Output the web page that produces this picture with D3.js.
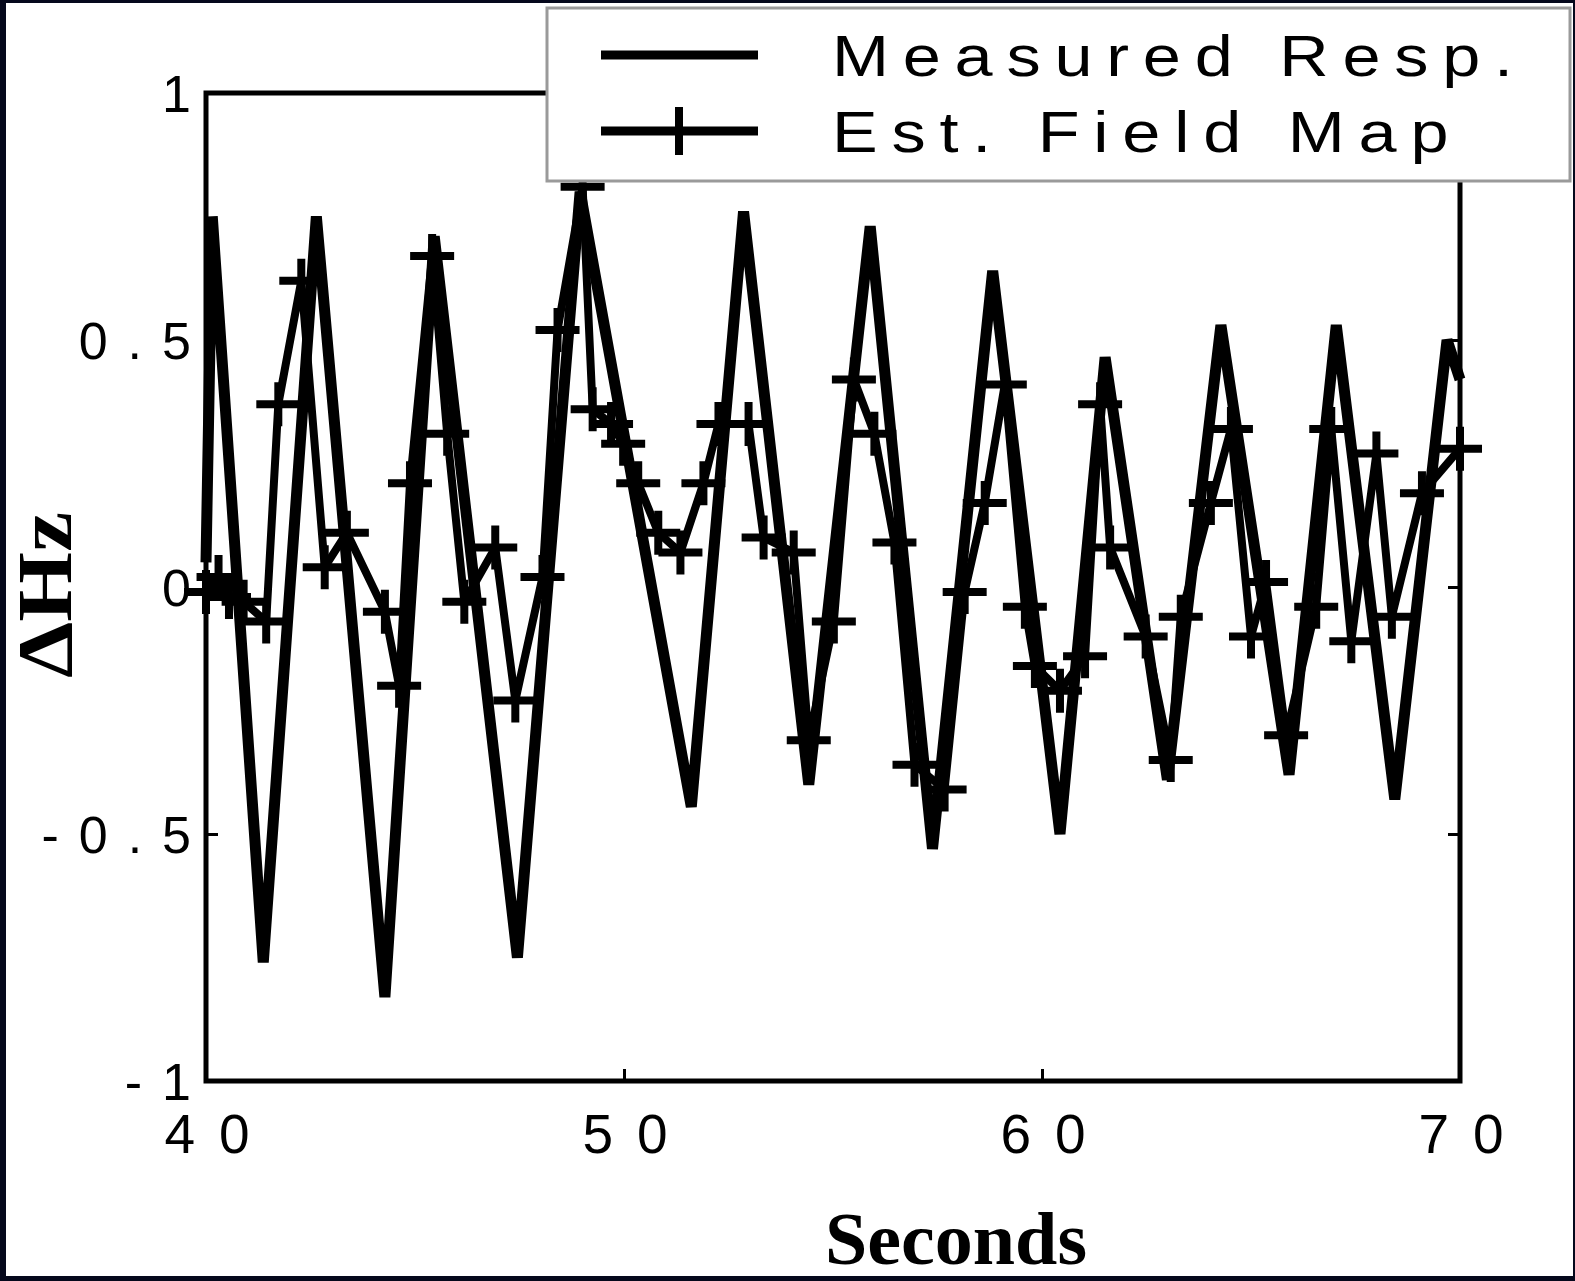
<!DOCTYPE html>
<html>
<head>
<meta charset="utf-8">
<script src="https://cdn.jsdelivr.net/npm/d3@7"></script>
<style>
  body { margin: 0; background: #05081c; }
  svg { display: block; }
</style>
</head>
<body>
<svg></svg>
<script>
// values
const measured_t  = [40.0, 40.15, 41.37, 42.64, 44.28, 45.46, 47.45, 48.95, 51.61, 52.86, 54.42, 55.89, 57.38,
                     58.82, 60.43, 61.51, 63.0, 64.28, 65.91, 67.04, 68.44, 69.69, 70.0];
const measured_hz = [0.05, 0.75, -0.76, 0.75, -0.83, 0.71, -0.75, 0.80, -0.445, 0.76, -0.40, 0.73, -0.53,
                     0.64, -0.50, 0.465, -0.39, 0.53, -0.38, 0.53, -0.43, 0.50, 0.42];

const est_t  = [40.0, 40.3, 40.55, 40.9, 41.44, 41.73, 42.28, 42.84, 43.37, 44.28, 44.62, 44.88, 45.41,
                45.77, 46.18, 46.92, 47.40, 48.05, 48.41, 49.01, 49.25, 49.69, 49.98, 50.34, 50.82,
                51.35, 51.9, 52.26, 52.98, 53.34, 54.06, 54.42, 55.02, 55.5, 55.99, 56.47, 56.95,
                57.67, 58.15, 58.63, 59.11, 59.59, 59.83, 60.43, 61.03, 61.39, 61.63, 62.48, 63.08,
                63.32, 64.04, 64.52, 65.0, 65.36, 65.84, 66.56, 66.92, 67.4, 68.0, 68.37, 69.09, 70.0];
const est_hz = [-0.01, 0.02, -0.02, -0.03, -0.07, 0.37, 0.62, 0.04, 0.11, -0.05, -0.20, 0.21, 0.67,
                0.31, -0.03, 0.08, -0.23, 0.02, 0.52, 0.81, 0.36, 0.33, 0.29, 0.21, 0.11,
                0.07, 0.21, 0.33, 0.33, 0.10, 0.07, -0.31, -0.07, 0.42, 0.31, 0.09, -0.36,
                -0.41, -0.01, 0.17, 0.41, -0.04, -0.16, -0.21, -0.14, 0.37, 0.08, -0.10, -0.35,
                -0.06, 0.17, 0.32, -0.10, 0.01, -0.30, -0.04, 0.32, -0.11, 0.27, -0.06, 0.19, 0.28];

const x_ticks = [40, 50, 60, 70];
const x_tick_labels = ["40", "50", "60", "70"];
const y_ticks = [-1, -0.5, 0, 0.5, 1];
const y_tick_labels = ["-1", "-0.5", "0", "0.5", "1"];
const legend_labels = ["Measured Resp.", "Est. Field Map"];

const width = 1575, height = 1281;
const margin = { left: 206, right: 115, top: 93, bottom: 200 };

const svg = d3.select("svg").attr("width", width).attr("height", height);

// white page inside the dark border
svg.append("rect")
  .attr("x", 6).attr("y", 3)
  .attr("width", width - 8).attr("height", height - 8)
  .attr("fill", "#fff");

const x_scale = d3.scaleLinear().domain([40, 70]).range([margin.left, width - margin.right]);
const y_scale = d3.scaleLinear().domain([-1, 1]).range([height - margin.bottom, margin.top]);

const x0 = x_scale.range()[0], x1 = x_scale.range()[1];
const y0 = y_scale.range()[0], y1 = y_scale.range()[1];

// inward ticks on all four sides
const inner = [50, 60];
const inner_y = [-0.5, 0, 0.5];
const tick_len = 12;
const blank = () => "";

svg.append("g").attr("transform", `translate(0,${y0})`)
  .call(d3.axisBottom(x_scale).tickValues(inner).tickSizeInner(-tick_len).tickSizeOuter(0).tickFormat(blank));
svg.append("g").attr("transform", `translate(0,${y1})`)
  .call(d3.axisTop(x_scale).tickValues(inner).tickSizeInner(-tick_len).tickSizeOuter(0).tickFormat(blank));
svg.append("g").attr("transform", `translate(${x0},0)`)
  .call(d3.axisLeft(y_scale).tickValues(inner_y).tickSizeInner(-tick_len).tickSizeOuter(0).tickFormat(blank));
svg.append("g").attr("transform", `translate(${x1},0)`)
  .call(d3.axisRight(y_scale).tickValues(inner_y).tickSizeInner(-tick_len).tickSizeOuter(0).tickFormat(blank));

svg.selectAll(".domain").remove();
svg.selectAll(".tick line").attr("stroke", "#000").attr("stroke-width", 3);

// box
svg.append("rect")
  .attr("x", x0).attr("y", y1)
  .attr("width", x1 - x0).attr("height", y0 - y1)
  .attr("fill", "none")
  .attr("stroke", "#000")
  .attr("stroke-width", 5);

// tick labels
const tick_font = "'Liberation Sans', Arial, sans-serif";
svg.append("g")
  .selectAll("text")
  .data(x_ticks)
  .join("text")
  .attr("x", (d) => x_scale(d) + 13)
  .attr("y", 1153)
  .attr("text-anchor", "middle")
  .style("font-family", tick_font)
  .style("font-size", "55px")
  .style("letter-spacing", "24px")
  .text((d, i) => x_tick_labels[i]);

svg.append("g")
  .selectAll("text")
  .data(y_ticks)
  .join("text")
  .attr("x", 211)
  .attr("y", (d) => y_scale(d) + 19)
  .attr("text-anchor", "end")
  .style("font-family", tick_font)
  .style("font-size", "52px")
  .style("letter-spacing", "20px")
  .text((d, i) => y_tick_labels[i]);

// axis titles
svg.append("text")
  .attr("x", 956)
  .attr("y", 1264)
  .attr("text-anchor", "middle")
  .attr("textLength", 262)
  .attr("lengthAdjust", "spacingAndGlyphs")
  .style("font-family", "'Liberation Serif', 'Times New Roman', serif")
  .style("font-weight", "bold")
  .style("font-size", "74px")
  .text("Seconds");

svg.append("text")
  .attr("transform", "translate(71,595) rotate(-90)")
  .attr("text-anchor", "middle")
  .attr("textLength", 166)
  .attr("lengthAdjust", "spacingAndGlyphs")
  .style("font-family", "'Liberation Serif', 'Times New Roman', serif")
  .style("font-weight", "bold")
  .style("font-size", "78px")
  .text("\u0394Hz");

// series
const measured = measured_t.map((t, i) => [t, measured_hz[i]]);
const est = est_t.map((t, i) => [t, est_hz[i]]);

const line_generator = d3.line()
  .x((d) => x_scale(d[0]))
  .y((d) => y_scale(d[1]));

svg.append("path")
  .attr("fill", "none")
  .attr("stroke", "#000")
  .attr("stroke-width", 11)
  .attr("stroke-linejoin", "miter")
  .attr("d", line_generator(measured));

svg.append("path")
  .attr("fill", "none")
  .attr("stroke", "#000")
  .attr("stroke-width", 8)
  .attr("stroke-linejoin", "miter")
  .attr("d", line_generator(est));

const plus = 22;
const plus_path = `M${-plus},0H${plus}M0,${-plus}V${plus}`;
svg.append("g")
  .selectAll("path")
  .data(est)
  .join("path")
  .attr("transform", (d) => `translate(${x_scale(d[0])},${y_scale(d[1])})`)
  .attr("d", plus_path)
  .attr("stroke", "#000")
  .attr("stroke-width", 8)
  .attr("fill", "none");

// legend
const legend = svg.append("g");
legend.append("rect")
  .attr("x", 547).attr("y", 8)
  .attr("width", 1023).attr("height", 173)
  .attr("fill", "#fff")
  .attr("stroke", "#9a9a9a")
  .attr("stroke-width", 3);

const rows = [55, 131];
legend.selectAll("line.sample")
  .data(rows)
  .join("line")
  .attr("class", "sample")
  .attr("x1", 601).attr("x2", 758)
  .attr("y1", (d) => d).attr("y2", (d) => d)
  .attr("stroke", "#000")
  .attr("stroke-width", 9);

legend.append("path")
  .attr("transform", `translate(679,${rows[1]})`)
  .attr("d", `M0,-24V24`)
  .attr("stroke", "#000")
  .attr("stroke-width", 8);

// legend text is wide and spaced out, so stretch it a little
legend.selectAll("text")
  .data(legend_labels)
  .join("text")
  .attr("transform", (d, i) => `translate(832,${rows[i] + 21}) scale(1.2,1)`)
  .style("font-family", tick_font)
  .style("font-size", "57px")
  .style("letter-spacing", "11.5px")
  .text((d) => d);
</script>
</body>
</html>
